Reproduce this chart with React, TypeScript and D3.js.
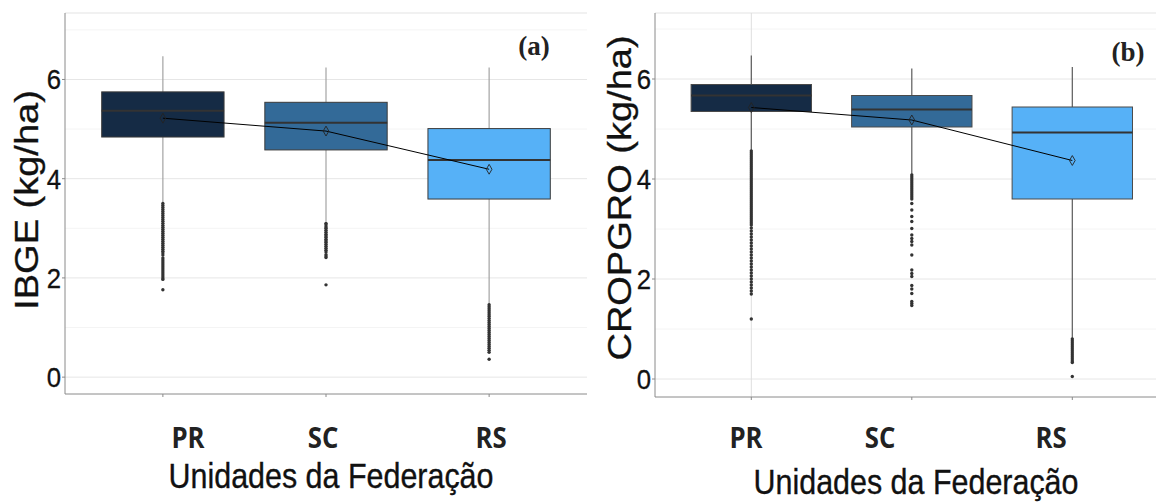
import React from "react";
import * as d3 from "d3";

// ---------- data ----------
const categories = ["PR", "SC", "RS"];
const fillColors = ["#152b45", "#336a98", "#56b1f7"];
const yTicks = [0, 2, 4, 6];
const yMinorTicks = [1, 3, 5, 7];

// (a) IBGE
const ibgeLow = [3.52, 3.13, 1.47];
const ibgeQ1 = [4.84, 4.58, 3.59];
const ibgeMedian = [5.37, 5.13, 4.375];
const ibgeQ3 = [5.75, 5.54, 5.01];
const ibgeHigh = [6.47, 6.24, 6.24];
const ibgeMean = [5.22, 4.96, 4.19];
const ibgeOutPR = [3.5, 3.46, 3.42, 3.38, 3.34, 3.3, 3.26, 3.22, 3.18, 3.14, 3.1, 3.06, 3.02, 2.98, 2.94, 2.9, 2.86, 2.82, 2.78, 2.74, 2.7, 2.66, 2.62, 2.58, 2.54, 2.5, 2.46, 2.4, 2.36, 2.32, 2.28, 2.24, 2.2, 2.16, 2.12, 2.08, 2.04, 2.0, 1.97, 1.76];
const ibgeOutSC = [3.1, 3.07, 3.03, 3.0, 2.96, 2.92, 2.88, 2.85, 2.82, 2.78, 2.75, 2.72, 2.68, 2.64, 2.6, 2.56, 2.52, 2.47, 2.44, 2.41, 1.86];
const ibgeOutRS = [1.46, 1.42, 1.38, 1.34, 1.3, 1.26, 1.22, 1.18, 1.14, 1.1, 1.06, 1.02, 0.98, 0.94, 0.9, 0.86, 0.82, 0.78, 0.74, 0.7, 0.66, 0.62, 0.58, 0.54, 0.5, 0.36];

// (b) CROPGRO
const cropLow = [4.58, 4.09, 0.82];
const cropQ1 = [5.35, 5.04, 3.6];
const cropMedian = [5.67, 5.39, 4.93];
const cropQ3 = [5.89, 5.67, 5.44];
const cropHigh = [6.47, 6.21, 6.24];
const cropMean = [5.43, 5.18, 4.37];
const cropOutPR = [4.56, 4.52, 4.48, 4.44, 4.4, 4.36, 4.32, 4.28, 4.24, 4.2, 4.16, 4.12, 4.08, 4.04, 4.0, 3.96, 3.92, 3.88, 3.84, 3.8, 3.76, 3.72, 3.68, 3.64, 3.6, 3.56, 3.52, 3.48, 3.44, 3.4, 3.36, 3.32, 3.28, 3.24, 3.2, 3.16, 3.12, 3.08, 3.02, 2.96, 2.9, 2.84, 2.78, 2.72, 2.66, 2.6, 2.54, 2.48, 2.42, 2.36, 2.3, 2.24, 2.18, 2.12, 2.06, 2.0, 1.94, 1.88, 1.82, 1.76, 1.7, 1.2];
const cropOutSC = [4.08, 4.04, 4.0, 3.96, 3.92, 3.88, 3.84, 3.8, 3.76, 3.72, 3.68, 3.64, 3.6, 3.51, 3.38, 3.25, 3.15, 3.01, 2.88, 2.81, 2.75, 2.68, 2.48, 2.18, 2.11, 2.05, 1.87, 1.8, 1.71, 1.55, 1.51, 1.47];
const cropOutRS = [0.8, 0.76, 0.72, 0.68, 0.64, 0.6, 0.56, 0.52, 0.48, 0.44, 0.4, 0.36, 0.33, 0.05];

const xLabelsText = categories;
const xTitle = "Unidades da Federação";

type PanelCfg = {
  tag: string;
  yTitle: string;
  low: number[]; q1: number[]; med: number[]; q3: number[]; high: number[]; mean: number[];
  outliers: number[][];
  left: number; right: number; top: number; bottom: number;
  yDomain: [number, number];
  whiskerColor: string;
  outlineColor: string;
  labelX: number[];
  titleX: number; titleY: number;
  yTitleX: number; yTitleY: number;
  tagX: number; tagY: number;
  pointGrid: boolean;
};

const panels: PanelCfg[] = [
  {
    tag: "(a)", yTitle: "IBGE (kg/ha)",
    low: ibgeLow, q1: ibgeQ1, med: ibgeMedian, q3: ibgeQ3, high: ibgeHigh, mean: ibgeMean,
    outliers: [ibgeOutPR, ibgeOutSC, ibgeOutRS],
    left: 65, right: 587, top: 13, bottom: 394, yDomain: [-0.34, 7.34],
    whiskerColor: "#a3a3a3", outlineColor: "#3a3a3a",
    labelX: [188, 323, 491], titleX: 331, titleY: 488,
    yTitleX: 38, yTitleY: 200, tagX: 534, tagY: 55, pointGrid: false,
  },
  {
    tag: "(b)", yTitle: "CROPGRO (kg/ha)",
    low: cropLow, q1: cropQ1, med: cropMedian, q3: cropQ3, high: cropHigh, mean: cropMean,
    outliers: [cropOutPR, cropOutSC, cropOutRS],
    left: 655, right: 1168.6, top: 13, bottom: 397, yDomain: [-0.36, 7.32],
    whiskerColor: "#5a5a5a", outlineColor: "#4a4a4a",
    labelX: [746, 880, 1051], titleX: 916, titleY: 494,
    yTitleX: 631, yTitleY: 198, tagX: 1128, tagY: 61, pointGrid: true,
  },
];

function Panel({ p }: { p: PanelCfg }) {
  const x = d3.scalePoint<string>().domain(categories).range([p.left, p.right]).padding(0.6);
  const y = d3.scaleLinear().domain(p.yDomain).range([p.bottom, p.top]);
  const step = x.step();
  const bw = step * 0.75;
  const meanLine = d3.line<number>().x((_, i) => x(categories[i])!).y((d) => y(d));
  const diamond = d3.symbol().type(d3.symbolDiamond).size(28)() as string;
  const clipId = "clip" + p.tag.replace(/[()]/g, "");
  const sans = "'Liberation Sans', Arial, sans-serif";
  return (
    <g>
      <defs>
        <clipPath id={clipId}>
          <rect x={p.left} y={p.top - 1} width={p.right - p.left} height={p.bottom - p.top + 2} />
        </clipPath>
      </defs>
      <g clipPath={`url(#${clipId})`}>
        <line x1={p.left} x2={p.right} y1={p.top} y2={p.top} stroke="#e3e3e3" strokeWidth={1} />
        {yMinorTicks.map((t) => (
          <line key={"m" + t} x1={p.left} x2={p.right} y1={y(t)} y2={y(t)} stroke="#f4f4f4" strokeWidth={1} />
        ))}
        {yTicks.map((t) => (
          <line key={"g" + t} x1={p.left} x2={p.right} y1={y(t)} y2={y(t)} stroke="#e6e6e6" strokeWidth={1} />
        ))}
        {p.pointGrid && (
          <line x1={x(categories[0])} x2={x(categories[0])} y1={p.top} y2={p.bottom} stroke="#dedede" strokeWidth={1} />
        )}
      </g>
      {categories.map((c, i) => {
        const cx = x(c)!;
        return (
          <g key={c}>
            <line x1={cx} x2={cx} y1={y(p.high[i])} y2={y(p.q3[i])} stroke={p.whiskerColor} strokeWidth={1.2} />
            <line x1={cx} x2={cx} y1={y(p.q1[i])} y2={y(p.low[i])} stroke={p.whiskerColor} strokeWidth={1.2} />
            <rect x={cx - bw / 2} y={y(p.q3[i])} width={bw} height={y(p.q1[i]) - y(p.q3[i])}
              fill={fillColors[i]} stroke={p.outlineColor} strokeWidth={1} />
            <line x1={cx - bw / 2} x2={cx + bw / 2} y1={y(p.med[i])} y2={y(p.med[i])} stroke="#333" strokeWidth={2} />
            {p.outliers[i].map((v, k) => (
              <circle key={k} cx={cx} cy={y(v)} r={1.7} fill="#333" />
            ))}
          </g>
        );
      })}
      <path d={meanLine(p.mean) as string} fill="none" stroke="#000" strokeWidth={1} />
      {p.mean.map((m, i) => (
        <path key={i} d={diamond} transform={`translate(${x(categories[i])},${y(m)})`} fill="none" stroke="#222" strokeWidth={0.9} />
      ))}
      <line x1={p.left} x2={p.left} y1={p.top} y2={p.bottom} stroke="#8a8a8a" strokeWidth={1} />
      <line x1={p.left} x2={p.right} y1={p.bottom} y2={p.bottom} stroke="#8a8a8a" strokeWidth={1} />
      {yTicks.map((t) => (
        <g key={"t" + t}>
          <line x1={p.left - 3} x2={p.left} y1={y(t)} y2={y(t)} stroke="#8a8a8a" strokeWidth={1} />
          <text transform={`translate(${p.left - 4},${y(t) + 10}) scale(0.92,1)`} textAnchor="end"
            fontFamily={sans} fontSize={28} fill="#111" stroke="#111" strokeWidth={0.3}>{t}</text>
        </g>
      ))}
      {categories.map((c) => (
        <line key={"xt" + c} x1={x(c)} x2={x(c)} y1={p.bottom} y2={p.bottom + 3} stroke="#8a8a8a" strokeWidth={1} />
      ))}
      {xLabelsText.map((c, i) => (
        <text key={"xl" + c} transform={`translate(${p.labelX[i]},448) scale(0.92,1)`} textAnchor="middle"
          fontFamily="'Open Sans', sans-serif" fontWeight={700} fontSize={28} fill="#222">{c}</text>
      ))}
      <text transform={`translate(${p.titleX},${p.titleY}) scale(0.87,1)`} textAnchor="middle"
        fontFamily={sans} fontSize={35} fill="#111" stroke="#111" strokeWidth={0.35}>{xTitle}</text>
      <text transform={`translate(${p.yTitleX},${p.yTitleY}) scale(0.87,1) rotate(-90)`} textAnchor="middle"
        fontFamily={sans} fontSize={38} fill="#111" stroke="#111" strokeWidth={0.35}>{p.yTitle}</text>
      <text x={p.tagX} y={p.tagY} textAnchor="middle" fontFamily="'Liberation Serif', 'Times New Roman', serif"
        fontWeight={700} fontSize={27} fill="#222">{p.tag}</text>
    </g>
  );
}

export default function App() {
  return (
    <svg width={1156} height={502} style={{ display: "block", position: "absolute", left: 0, top: 0, background: "#fff" }}>
      <rect width={1156} height={502} fill="#fff" />
      {panels.map((p) => (
        <Panel key={p.tag} p={p} />
      ))}
    </svg>
  );
}
